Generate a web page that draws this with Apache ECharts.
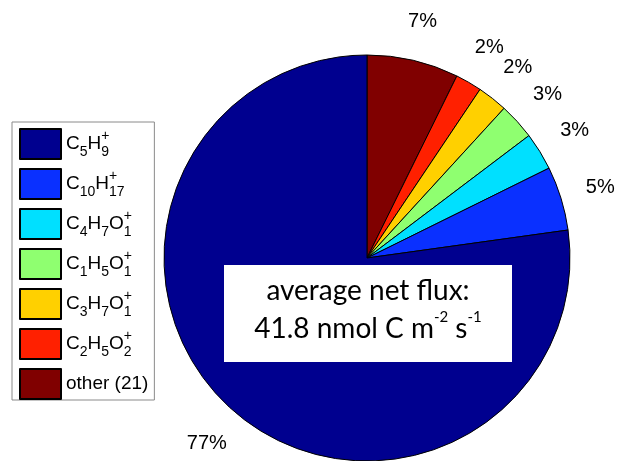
<!DOCTYPE html>
<html>
<head>
<meta charset="utf-8">
<script src="https://cdn.jsdelivr.net/npm/echarts@6/dist/echarts.min.js"></script>
<style>
  html, body { margin: 0; padding: 0; background: #fff; }
  #chart { width: 619px; height: 461px; }
</style>
</head>
<body>
<div id="chart"></div>
<script>
// Share of net carbon flux by ion, clockwise from 12 o'clock
const ions = ['other (21)', 'C2H5O2+', 'C3H7O1+', 'C1H5O1+', 'C4H7O1+', 'C10H17+', 'C5H9+'];
const shares = [7.3, 2.1, 2.4, 2.9, 3.0, 5.1, 77.2];
const colors = ['#800000', '#ff2000', '#ffd000', '#8fff70', '#00e0ff', '#0a30ff', '#00008f'];
// Legend order (top to bottom)
const legendOrder = ['C5H9+', 'C10H17+', 'C4H7O1+', 'C1H5O1+', 'C3H7O1+', 'C2H5O2+', 'other (21)'];
const fluxValue = '41.8';

// Turn a formula like "C4H7O1+" into rich-text tokens: digits as subscripts,
// trailing "+" stacked above the last subscript. Plain names stay as they are.
function formulaRich(name) {
  if (!/^[A-Z][A-Za-z0-9]*\+?$/.test(name)) return '{t|' + name + '}';
  const m = name.match(/^(.*?)(\+)?$/);
  const body = m[1];
  const charge = m[2];
  const parts = body.match(/[A-Za-z]+|\d+/g);
  let out = '';
  parts.forEach((p, i) => {
    const last = i === parts.length - 1;
    if (/\d/.test(p)) {
      if (last && charge) out += '{p|' + charge + '}';
      out += '{b|' + p + '}';
    } else {
      out += '{t|' + p + '}';
    }
  });
  return out;
}

const total = shares.reduce((a, b) => a + b, 0);
const pieData = ions.map((n, i) => ({ name: n, value: shares[i], itemStyle: { color: colors[i] } }));

// Percentage labels sit at each slice's mid-angle on a polar grid around the pie
let acc = 0;
const labelPoints = shares.map(v => {
  const mid = acc + v / 2;
  acc += v;
  return { value: [1, mid], share: v };
});

const chart = echarts.init(document.getElementById('chart'), null, { renderer: 'canvas' });
chart.setOption({
  animation: false,
  backgroundColor: '#fff',
  polar: { center: [367, 259], radius: 244 },
  angleAxis: { type: 'value', min: 0, max: total, startAngle: 90, clockwise: true, show: false },
  radiusAxis: { type: 'value', min: 0, max: 1, show: false },
  legend: {
    orient: 'vertical',
    left: 12,
    top: 122,
    data: legendOrder,
    icon: 'rect',
    itemWidth: 41,
    itemHeight: 30,
    itemGap: 8,
    padding: [6, 6, 0, 7],
    borderColor: '#8a8a8a',
    borderWidth: 1,
    selectedMode: false,
    formatter: formulaRich,
    textStyle: {
      rich: {
        t: { fontFamily: 'Liberation Sans', fontSize: 19, color: '#000', lineHeight: 30 },
        b: { fontFamily: 'Liberation Sans', fontSize: 14, color: '#000', lineHeight: 10, verticalAlign: 'bottom' },
        p: { fontFamily: 'Liberation Sans', fontSize: 14, color: '#000', lineHeight: 20, verticalAlign: 'top', width: 0 }
      }
    }
  },
  series: [
    {
      type: 'pie',
      center: [367, 258],
      radius: [0, 203],
      startAngle: 90,
      clockwise: true,
      avoidLabelOverlap: false,
      silent: true,
      label: { show: false },
      labelLine: { show: false },
      itemStyle: { borderColor: '#000', borderWidth: 1 },
      data: pieData
    },
    {
      type: 'scatter',
      coordinateSystem: 'polar',
      silent: true,
      symbolSize: 0,
      itemStyle: { color: '#000', opacity: 1 },
      label: {
        show: true,
        position: 'inside',
        fontFamily: 'Liberation Sans',
        fontSize: 20,
        color: '#000',
        textBorderWidth: 0,
        formatter: p => Math.round(p.data.share) + '%'
      },
      data: labelPoints
    }
  ],
  graphic: [
    {
      type: 'rect',
      left: 224,
      top: 265,
      shape: { width: 288, height: 97 },
      style: { fill: '#fff' },
      z: 100
    },
    {
      type: 'text',
      x: 368,
      y: 310,
      z: 101,
      style: {
        text: '{a|average net flux:}\n{a|' + fluxValue + ' nmol C m}{s|-2}{a| s}{s|-1}',
        align: 'center',
        verticalAlign: 'middle',
        rich: {
          a: { fontFamily: 'Lato', fontSize: 28, color: '#000', lineHeight: 38 },
          s: { fontFamily: 'Lato', fontSize: 15, color: '#000', lineHeight: 26, verticalAlign: 'top' }
        }
      }
    }
  ]
});
</script>
</body>
</html>
